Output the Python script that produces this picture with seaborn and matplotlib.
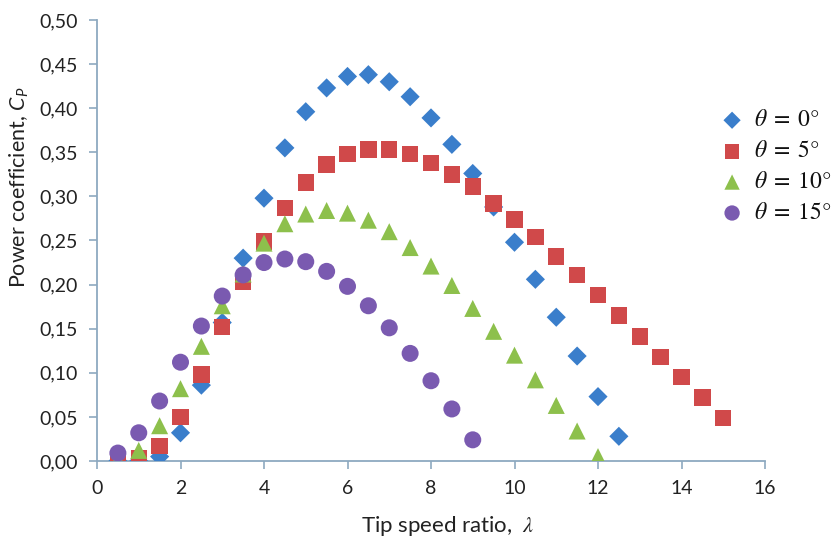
import matplotlib
matplotlib.use("Agg")
import matplotlib.pyplot as plt
import seaborn as sns
import pandas as pd
from matplotlib.ticker import FuncFormatter, MultipleLocator

sns.set_theme(style="white")
plt.rcParams['font.family'] = ['Lato', 'DejaVu Sans']
plt.rcParams['mathtext.fontset'] = 'custom'
plt.rcParams['mathtext.rm'] = 'Lato'
plt.rcParams['mathtext.it'] = 'Lato:italic'
plt.rcParams['mathtext.bf'] = 'Lato:bold'

x0 = [0.5, 1, 1.5, 2, 2.5, 3, 3.5, 4, 4.5, 5, 5.5, 6, 6.5, 7, 7.5, 8, 8.5, 9, 9.5, 10, 10.5, 11, 11.5, 12, 12.5]
cp0 = [0.0, 0.0, 0.005, 0.032, 0.086, 0.157, 0.230, 0.298, 0.355, 0.396, 0.423, 0.436, 0.438, 0.430, 0.413, 0.389, 0.359, 0.326, 0.288, 0.248, 0.206, 0.163, 0.119, 0.073, 0.028]

x5 = [0.5, 1, 1.5, 2, 2.5, 3, 3.5, 4, 4.5, 5, 5.5, 6, 6.5, 7, 7.5, 8, 8.5, 9, 9.5, 10, 10.5, 11, 11.5, 12, 12.5, 13, 13.5, 14, 14.5, 15]
cp5 = [0.0, 0.003, 0.017, 0.050, 0.098, 0.152, 0.203, 0.249, 0.287, 0.316, 0.336, 0.348, 0.353, 0.353, 0.348, 0.338, 0.325, 0.311, 0.292, 0.274, 0.254, 0.232, 0.211, 0.188, 0.165, 0.141, 0.118, 0.095, 0.072, 0.049]

x10 = [0.5, 1, 1.5, 2, 2.5, 3, 3.5, 4, 4.5, 5, 5.5, 6, 6.5, 7, 7.5, 8, 8.5, 9, 9.5, 10, 10.5, 11, 11.5, 12]
cp10 = [0.001, 0.012, 0.040, 0.082, 0.130, 0.176, 0.212, 0.247, 0.269, 0.280, 0.284, 0.281, 0.273, 0.260, 0.242, 0.221, 0.199, 0.173, 0.147, 0.120, 0.092, 0.063, 0.034, 0.005]

x15 = [0.5, 1, 1.5, 2, 2.5, 3, 3.5, 4, 4.5, 5, 5.5, 6, 6.5, 7, 7.5, 8, 8.5, 9]
cp15 = [0.009, 0.032, 0.068, 0.112, 0.153, 0.187, 0.211, 0.225, 0.229, 0.226, 0.215, 0.198, 0.176, 0.151, 0.122, 0.091, 0.059, 0.024]

labels = [r'$\theta\;=\;0°$', r'$\theta\;=\;5°$',
          r'$\theta\;=\;10°$', r'$\theta\;=\;15°$']

series = [(x0, cp0), (x5, cp5), (x10, cp10), (x15, cp15)]
markers = ['D', 's', '^', 'o']
colors = ['#3A7ECB', '#D0494A', '#8DC04C', '#7A5AB0']
sizes = [95, 140, 150, 150]

fig = plt.figure(figsize=(8.32, 5.43), dpi=100)
ax = fig.add_axes([97/832, 1-461/543, (765-97)/832, (461-20)/543])

for (xs, ys), lab, m, c, s in zip(series, labels, markers, colors, sizes):
    df = pd.DataFrame({'x': xs, 'y': ys})
    sns.scatterplot(data=df, x='x', y='y', marker=m, color=c, s=s,
                    edgecolor='none', linewidth=0, label=lab, ax=ax, zorder=3)

ax.set_xlim(0, 16)
ax.set_ylim(0, 0.5)
ax.xaxis.set_major_locator(MultipleLocator(2))
ax.yaxis.set_major_locator(MultipleLocator(0.05))
ax.yaxis.set_major_formatter(FuncFormatter(lambda v, p: f"{v:.2f}".replace('.', ',')))
ax.xaxis.set_major_formatter(FuncFormatter(lambda v, p: f"{int(round(v))}"))

axis_col = '#8DA9C0'
for side in ['top', 'right']:
    ax.spines[side].set_visible(False)
for side in ['left', 'bottom']:
    ax.spines[side].set_color(axis_col)
    ax.spines[side].set_linewidth(1.3)
ax.tick_params(axis='both', direction='out', length=6, width=1.2, color=axis_col,
               labelsize=14, labelcolor='#222222', pad=8, left=True, bottom=True)

ax.set_xlabel(r'Tip speed ratio,  $\lambda$', fontsize=16, color='#222222',
              math_fontfamily='stix')
ax.xaxis.set_label_coords((448-97)/668, -(514-461)/441)
ax.set_ylabel(r'Power coefficient, $C_P$', fontsize=15.5, color='#222222')
ax.yaxis.set_label_coords(-(97-31)/668, (461-187)/441)

leg = ax.legend(loc='upper left', bbox_to_anchor=(712/832, 1-100/543),
                bbox_transform=fig.transFigure, frameon=False,
                prop={'size': 17, 'math_fontfamily': 'stix'},
                handletextpad=0.5, labelspacing=0.42, borderaxespad=0,
                handlelength=0.9, markerscale=0.9)
for t in leg.get_texts():
    t.set_color('#111111')

fig.savefig('out.png', dpi=100)
